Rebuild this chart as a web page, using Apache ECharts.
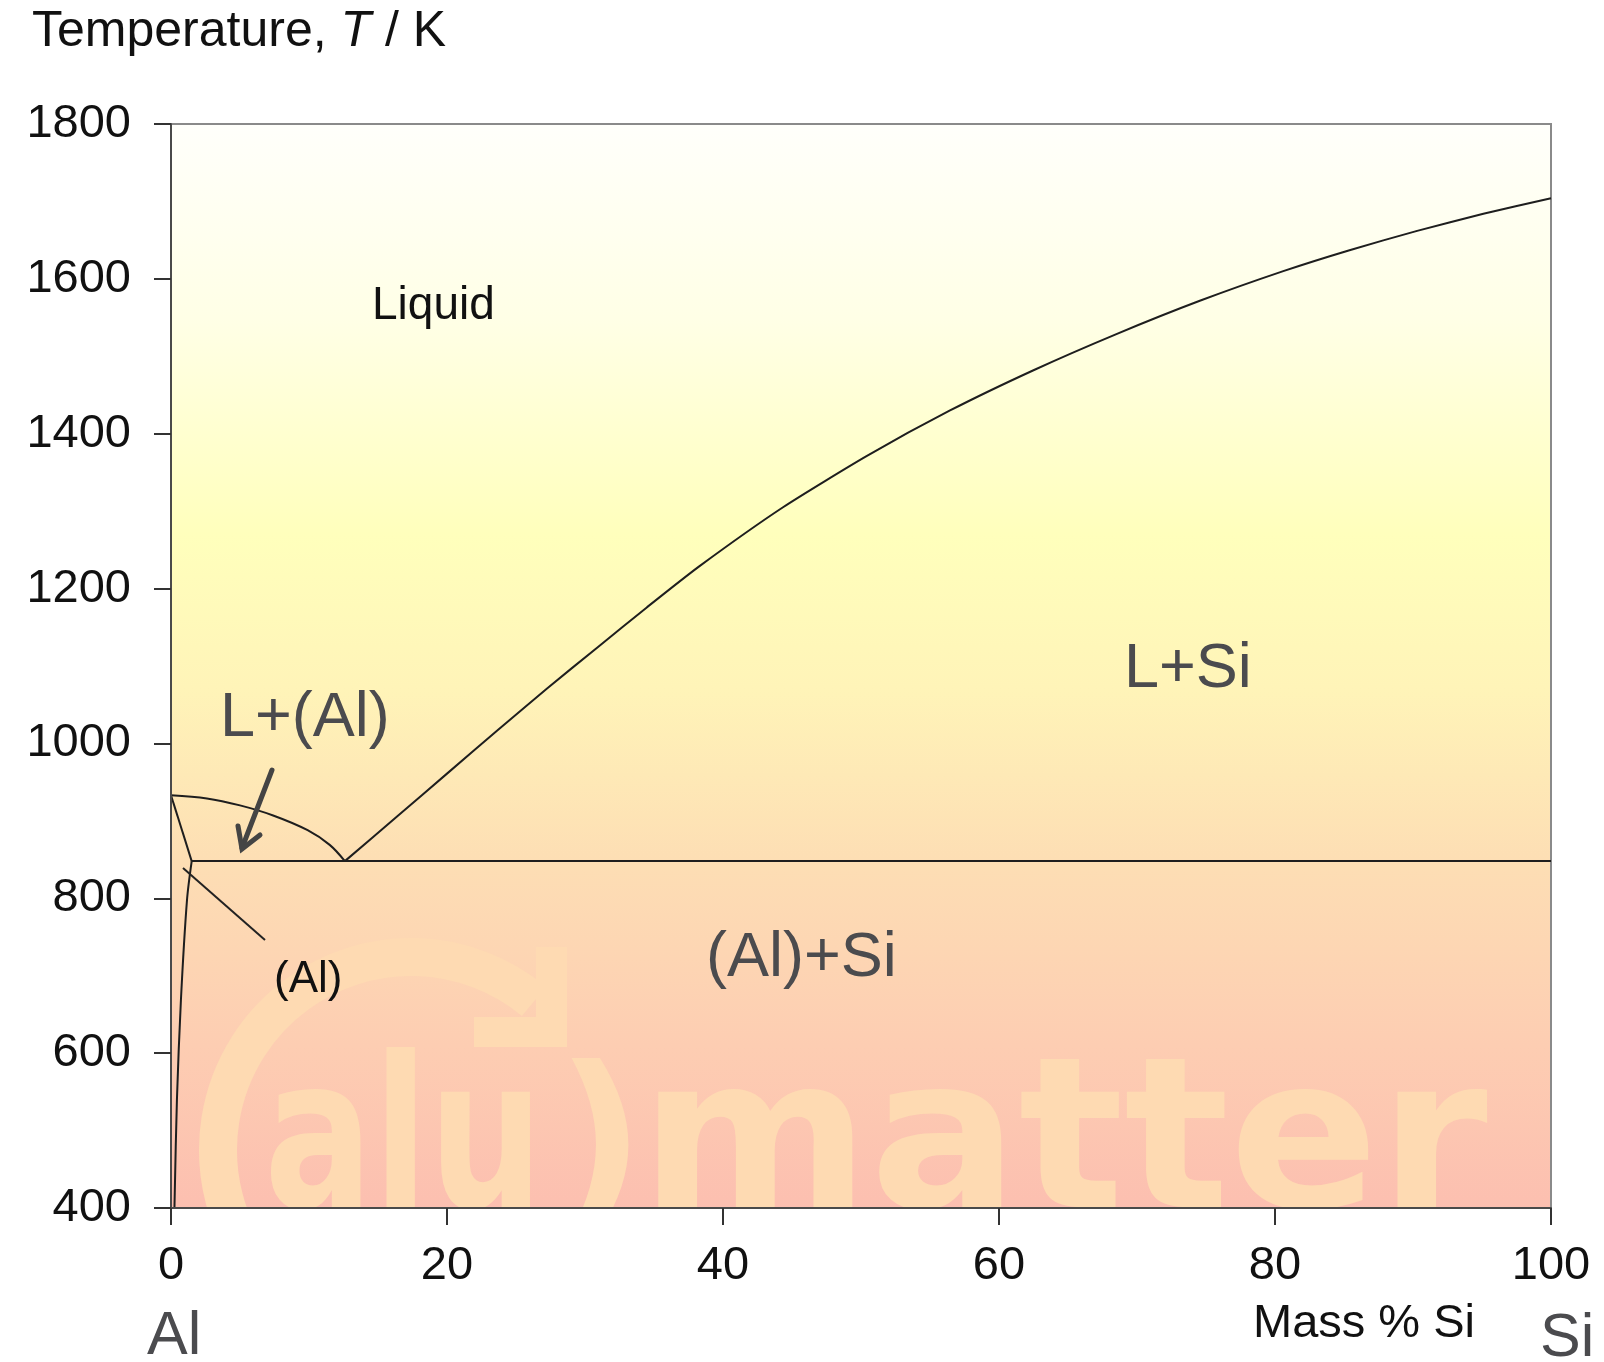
<!DOCTYPE html>
<html>
<head>
<meta charset="utf-8">
<style>
  html, body { margin: 0; padding: 0; background: #ffffff; }
  #chart { width: 1604px; height: 1362px; }
</style>
<script src="https://cdn.jsdelivr.net/npm/echarts@6/dist/echarts.min.js"></script>
</head>
<body>
<div id="chart"></div>
<script>
// ---------- Data ----------
const xTicks = [0, 20, 40, 60, 80, 100];           // Mass % Si
const yTicks = [400, 600, 800, 1000, 1200, 1400, 1600, 1800]; // T / K

// Al-side liquidus (L / L+(Al))
const alLiqComp = [0, 2.6, 5.0, 7.4, 9.9, 11.5, 12.6];
const alLiqTemp = [933, 929, 920, 907, 888, 869, 848];

// Si-side liquidus (L / L+Si)
const siLiqComp = [12.6, 16.4, 20.0, 23.6, 27.25, 30.9, 34.5, 38.3, 44.35, 50.4, 56.45, 62.5, 68.55, 74.6, 80.6, 85.4, 90.3, 95.1, 100];
const siLiqTemp = [848, 906, 961, 1016, 1071, 1124, 1176, 1229, 1305, 1371, 1430, 1482, 1529, 1572, 1610, 1637, 1662, 1684, 1704];

// Solidus of (Al)
const solidusComp = [0, 1.5];
const solidusTemp = [933, 848];

// Solvus of (Al)
const solvusComp = [1.5, 1.16, 0.72, 0.43, 0.25];
const solvusTemp = [848, 798, 669, 540, 400];

// Eutectic isotherm
const eutecticComp = [1.5, 100];
const eutecticTemp = [848, 848];

// Texts
const yAxisTitle = ['Temperature, ', 'T', ' / K'];
const xAxisTitle = 'Mass % Si';
const endLabels = ['Al', 'Si'];
const phaseLabels = ['Liquid', 'L+Si', 'L+(Al)', '(Al)+Si', '(Al)'];
const watermarkParts = ['alu', ')', 'matter'];

// ---------- Helpers ----------
const zip = (xs, ys) => xs.map((x, i) => [x, ys[i]]);
const FONT = 'Liberation Sans, Arial, sans-serif';
const LINE = '#1e1e1e';
const GRAY = '#4b4b4e';
const WM = '#fedab2';

const chart = echarts.init(document.getElementById('chart'), null, { renderer: 'canvas' });

function boundary(name, xs, ys, smooth) {
  return {
    name, type: 'line', data: zip(xs, ys), z: 3,
    showSymbol: false, symbol: 'none', smooth: smooth, smoothMonotone: 'none',
    lineStyle: { color: LINE, width: 2 }, silent: true, animation: false
  };
}

const option = {
  animation: false,
  backgroundColor: '#ffffff',
  grid: {
    left: 171, right: 53, top: 124, bottom: 154,
    show: true, borderColor: '#8a8a8a', borderWidth: 2,
    backgroundColor: {
      type: 'linear', x: 0, y: 0, x2: 0, y2: 1,
      colorStops: [
        { offset: 0.00, color: '#fffffb' },
        { offset: 0.18, color: '#ffffe6' },
        { offset: 0.38, color: '#ffffbc' },
        { offset: 0.52, color: '#fff4b8' },
        { offset: 0.68, color: '#fddeb4' },
        { offset: 0.85, color: '#fdcdb2' },
        { offset: 1.00, color: '#fcbfb0' }
      ]
    }
  },
  xAxis: {
    type: 'value', min: xTicks[0], max: xTicks[xTicks.length - 1], interval: 20, z: 10,
    axisLine: { show: true, onZero: false, lineStyle: { color: '#4a4a4a', width: 2 } },
    axisTick: { show: true, length: 17, inside: false, lineStyle: { color: '#333', width: 2 } },
    axisLabel: { show: true, margin: 35, fontSize: 47, color: '#111', fontFamily: FONT, formatter: v => String(v) },
    splitLine: { show: false }
  },
  yAxis: {
    type: 'value', min: yTicks[0], max: yTicks[yTicks.length - 1], interval: 200, z: 10,
    axisLine: { show: true, onZero: false, lineStyle: { color: '#4a4a4a', width: 2 } },
    axisTick: { show: true, length: 17, inside: false, lineStyle: { color: '#333', width: 2 } },
    axisLabel: { show: true, margin: 40, fontSize: 47, color: '#111', fontFamily: FONT, formatter: v => String(v) },
    splitLine: { show: false }
  },
  series: [
    {
      type: 'custom', z: 1, clip: true, silent: true, animation: false,
      data: [[xTicks[0], yTicks[0]]],
      renderItem: function (params, api) {
        const o = api.coord([xTicks[0], yTicks[0]]);
        const X = v => o[0] + (v - 171);
        const Y = v => o[1] + (v - 1208);
        const wf = { fontFamily: 'DejaVu Sans', fontWeight: 'bold', fill: WM, verticalAlign: 'middle', align: 'left' };
        return {
          type: 'group', children: [
            { type: 'arc', shape: { cx: X(411), cy: Y(1150), r: 193, startAngle: Math.PI * 0.8, endAngle: Math.PI * 1.72, clockwise: true },
              style: { stroke: WM, lineWidth: 38, fill: null } },
            { type: 'polygon', shape: { points: [[X(536), Y(947)], [X(567), Y(947)], [X(567), Y(1047)], [X(474), Y(1047)], [X(474), Y(1017)], [X(536), Y(1017)]] },
              style: { fill: WM } },
            { type: 'text', x: X(264), y: Y(1152), scaleX: 0.77, style: Object.assign({ text: watermarkParts[0], fontSize: 210 }, wf) },
            { type: 'text', x: X(556), y: Y(1155), style: Object.assign({ text: watermarkParts[1], fontSize: 195 }, wf) },
            { type: 'text', x: X(640), y: Y(1152), scaleX: 1.05, style: Object.assign({ text: watermarkParts[2], fontSize: 210 }, wf) }
          ]
        };
      }
    },
    boundary('Al liquidus', alLiqComp, alLiqTemp, 0.35),
    boundary('Si liquidus', siLiqComp, siLiqTemp, 0.2),
    boundary('Solidus', solidusComp, solidusTemp, false),
    boundary('Solvus', solvusComp, solvusTemp, 0.3),
    boundary('Eutectic', eutecticComp, eutecticTemp, false)
  ],
  graphic: {
    elements: [
      { type: 'text', x: 32, y: 32, z: 100,
        style: { text: '{a|' + yAxisTitle[0] + '}{i|' + yAxisTitle[1] + '}{a|' + yAxisTitle[2] + '}',
          verticalAlign: 'middle', align: 'left',
          rich: { a: { fontSize: 50, fontFamily: FONT, fill: '#111' }, i: { fontSize: 50, fontFamily: FONT, fontStyle: 'italic', fill: '#111' } } } },
      { type: 'text', x: 1364, y: 1324, z: 100,
        style: { text: xAxisTitle, fontSize: 47, fontFamily: FONT, fill: '#111', align: 'center', verticalAlign: 'middle' } },
      { type: 'text', x: 147, y: 1337, z: 100,
        style: { text: endLabels[0], fontSize: 61, fontFamily: FONT, fill: GRAY, align: 'left', verticalAlign: 'middle' } },
      { type: 'text', x: 1540, y: 1339, z: 100,
        style: { text: endLabels[1], fontSize: 61, fontFamily: FONT, fill: GRAY, align: 'left', verticalAlign: 'middle' } },
      { type: 'text', x: 372, y: 306, z: 100,
        style: { text: phaseLabels[0], fontSize: 46, fontFamily: FONT, fill: '#111', align: 'left', verticalAlign: 'middle' } },
      { type: 'text', x: 1124, y: 670, z: 100,
        style: { text: phaseLabels[1], fontSize: 63, fontFamily: FONT, fill: GRAY, align: 'left', verticalAlign: 'middle' } },
      { type: 'text', x: 220, y: 719, z: 100,
        style: { text: phaseLabels[2], fontSize: 63, fontFamily: FONT, fill: GRAY, align: 'left', verticalAlign: 'middle' } },
      { type: 'text', x: 706, y: 959, z: 100,
        style: { text: phaseLabels[3], fontSize: 63, fontFamily: FONT, fill: GRAY, align: 'left', verticalAlign: 'middle' } },
      { type: 'text', x: 274, y: 980, z: 100,
        style: { text: phaseLabels[4], fontSize: 44, fontFamily: FONT, fill: '#111', align: 'left', verticalAlign: 'middle' } },
      // arrow pointing to L+(Al) field
      { type: 'polyline', z: 100, shape: { points: [[272, 770], [242, 848]] },
        style: { stroke: '#444', lineWidth: 5, lineCap: 'round' } },
      { type: 'polyline', z: 100, shape: { points: [[238, 826], [242, 849], [260, 835]] },
        style: { stroke: '#444', lineWidth: 5, lineCap: 'round', lineJoin: 'miter', fill: null } },
      // pointer to (Al) field
      { type: 'polyline', z: 100, shape: { points: [[183, 868], [265, 940]] },
        style: { stroke: '#222', lineWidth: 2 } }
    ]
  }
};

chart.setOption(option);
</script>
</body>
</html>
